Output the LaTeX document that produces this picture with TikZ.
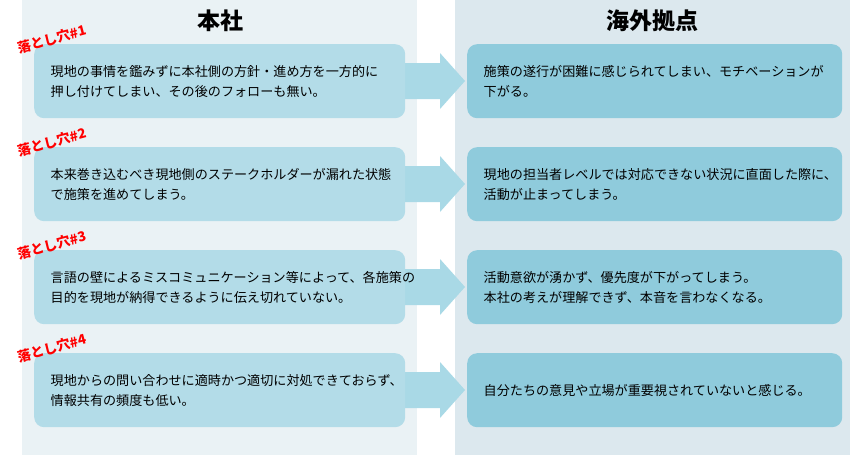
\documentclass[tikz,border=0pt]{standalone}
\usepackage{fontspec}
\setmainfont{Noto Sans CJK JP}
\definecolor{panelL}{HTML}{EAF2F5}
\definecolor{panelR}{HTML}{DCE8EE}
\definecolor{boxL}{HTML}{B3DCE8}
\definecolor{boxR}{HTML}{8FCBDC}
\definecolor{arr}{HTML}{A9D9E6}
\begin{document}
\begin{tikzpicture}[x=1pt,y=-1pt,
  lbox/.style={fill=boxL,rounded corners=10pt,minimum width=371pt,minimum height=74pt,text width=360pt,align=left,font=\fontsize{13.1}{20}\selectfont,anchor=north west,inner sep=0pt},
  rbox/.style={lbox,fill=boxR,minimum width=375pt,text width=362pt},
  pit/.style={text=red,font=\bfseries\fontsize{13.5}{14}\selectfont,rotate=15},
  hdr/.style={font=\bfseries\fontsize{23}{23}\selectfont}]
\useasboundingbox (0,0) rectangle (850,455);
\fill[panelL] (22,0) rectangle (417,455);
\fill[panelR] (455,0) rectangle (850,455);
\node[hdr] (h1) at (220,21) {本社};
\node[hdr] (h2) at (652,21) {海外拠点};
\foreach \i/\y/\lt/\rt in {
 1/44/{現地の事情を鑑みずに本社側の方針・進め方を一方的に\\押し付けてしまい、その後のフォローも無い。}/{施策の遂行が困難に感じられてしまい、モチベーションが\\下がる。},
 2/147/{本来巻き込むべき現地側のステークホルダーが漏れた状態\\で施策を進めてしまう。}/{現地の担当者レベルでは対応できない状況に直面した際に、\\活動が止まってしまう。},
 3/250/{言語の壁によるミスコミュニケーション等によって、各施策の\\目的を現地が納得できるように伝え切れていない。}/{活動意欲が湧かず、優先度が下がってしまう。\\本社の考えが理解できず、本音を言わなくなる。},
 4/353/{現地からの問い合わせに適時かつ適切に対処できておらず、\\情報共有の頻度も低い。}/{自分たちの意見や立場が重要視されていないと感じる。}}{
  \coordinate (a\i) at (400,\y+37);
  \fill[arr] ([yshift=18pt]a\i) -- ++(40,0) -- ++(0,-10) -- ++(25,28) -- ++(-25,28) -- ++(0,-10) -- ++(-40,0) -- cycle;
  \node[lbox] (l\i) at (34,\y) {\hspace*{11pt}\parbox{350pt}{\lt}};
  \node[rbox] (r\i) at (467,\y) {\hspace*{10pt}\parbox{355pt}{\rt}};
  \node[pit] (p\i) at (52,\y-5) {落とし穴\#\i};
}
\end{tikzpicture}
\end{document}
